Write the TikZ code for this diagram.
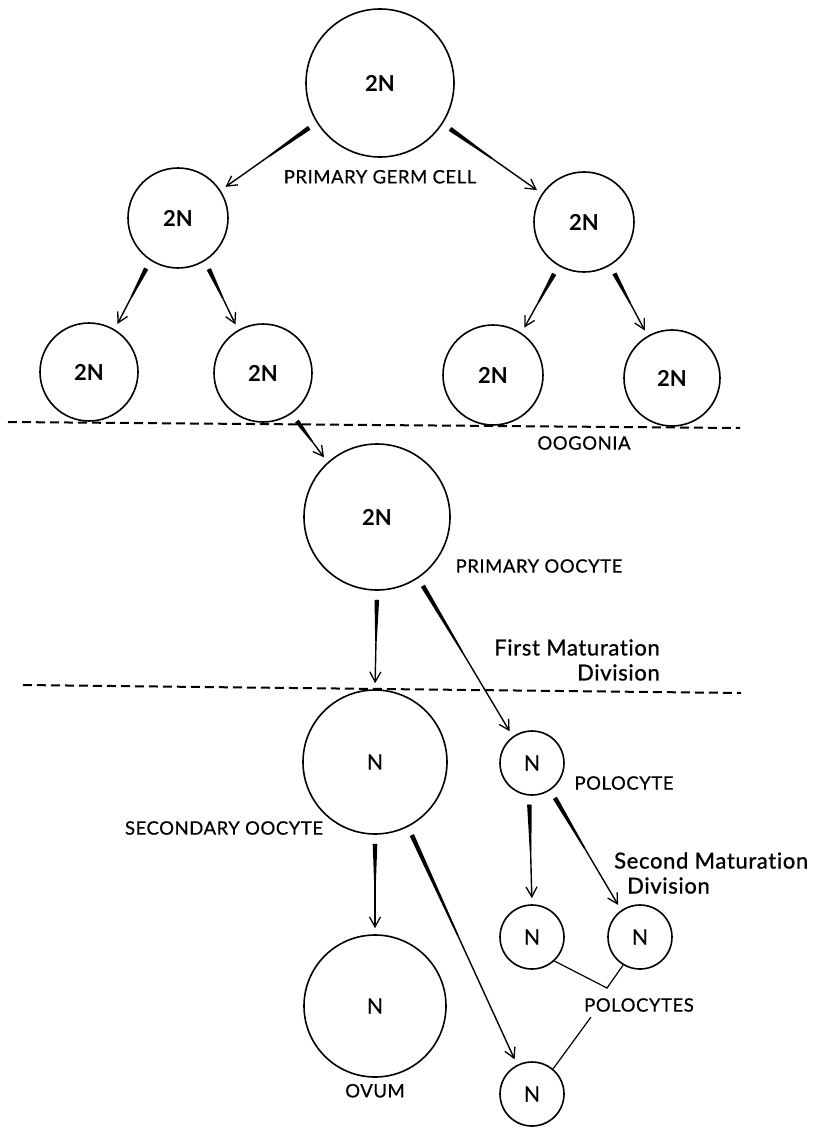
\documentclass[tikz,border=0pt]{standalone}
\usepackage{fontspec}
\setmainfont{Lato}
\usetikzlibrary{positioning, arrows.meta, decorations.markings}

\begin{document}
\begin{tikzpicture}[
  x=1pt, y=-1pt,
  cell/.style={circle, draw, line width=1.6pt, inner sep=0pt, minimum size=#1,
               font=\fontsize{21}{24}\selectfont\addfontfeatures{FakeBold=0.6}},
  dip/.style={font=\fontsize{22}{24}\selectfont\bfseries},
  lbl/.style={font=\fontsize{18.5}{20}\selectfont\addfontfeatures{LetterSpace=3,FakeBold=0.5},
              inner sep=1pt},
  note/.style={font=\fontsize{22}{25}\selectfont
               \addfontfeatures{LetterSpace=3,FakeBold=1,Ligatures=NoCommon},
               inner sep=1pt},
  split/.style={line width=1.4pt,
    -{Straight Barb[length=10pt, width=11pt, line width=1.3pt]},
    shorten <=9pt, shorten >=6pt,
    postaction={decorate, decoration={markings,
      mark=at position 9pt with {
        \pgfmathsetmacro\tl{0.42*\pgfdecoratedpathlength}
        \fill (0pt,2.3pt) -- (\tl pt,0.8pt) -- (\tl pt,-0.8pt) -- (0pt,-2.3pt) -- cycle;}}}},
  border/.style={dash pattern=on 9pt off 5pt, line width=2pt},
  tie/.style={line width=1.2pt}
]
\useasboundingbox (0,0) rectangle (823,1129);

% oogonia
\node[cell=148pt, dip] (pgc) at (380,83) {2N};
\node[cell=100pt, dip] (gl) at (178,218) {2N};
\node[cell=100pt, dip] (gr) at (584,222) {2N};
\node[cell=98pt, dip] (oa) at (89,372) {2N};
\node[cell=98pt, dip] (ob) at (263,373) {2N};
\node[cell=100pt, dip] (oc) at (493,375) {2N};
\node[cell=96pt, dip] (od) at (672,378) {2N};

% oocytes and polocytes
\node[cell=146pt, dip] (poo) at (377,517) {2N};
\node[cell=144pt] (soo) at (375,762) {N};
\node[cell=142pt] (ovum) at (375,1006) {N};
\node[cell=64pt] (pa) at (532,763) {N};
\node[cell=64pt] (pb) at (532,937) {N};
\node[cell=64pt] (pc) at (640,937) {N};
\node[cell=64pt] (pd) at (532,1094) {N};

% labels
\node[lbl, below=11pt of pgc] (pgcl) {PRIMARY GERM CELL};
\node[lbl] (oog) at (584,443) {OOGONIA};
\node[lbl] (pool) at (539,566) {PRIMARY OOCYTE};
\node[note, align=right] (fmd) at (577,660) {First Maturation\\Division};
\node[lbl] (sool) at (224,828) {SECONDARY OOCYTE};
\node[lbl] (pal) at (624,783) {POLOCYTE};
\node[note, align=left, anchor=west] (smd) at (613,873) {Second Maturation\\\hspace*{13pt}Division};
\node[lbl] (pcl) at (639,1005) {POLOCYTES};
\node[lbl, below=5pt of ovum] (ovl) {OVUM};

% divisions
\draw[split] (pgc.212) -- (gl.33);
\draw[split] (pgc.327) -- (gr.146);
\draw[split] (gl.237) -- (oa.59);
\draw[split] (gl.302) -- (ob.120);
\draw[split] (gr.240) -- (oc.56);
\draw[split] (gr.301) -- (od.120);
\draw[split] (ob.305) -- (poo.132);
\draw[split] (poo.270) -- (soo.90);
\draw[split] (poo.304) -- (pa.126);
\draw[split] (soo.270) -- (ovum.90);
\draw[split] (soo.297) -- (pd.117);
\draw[split] (pa.265) -- (pb.90);
\draw[split] (pa.304) -- (pc.125);

% dividing lines
\draw[border] (8,422) -- (740,428);
\draw[border] (23,685) -- (741,693);

% polocytes bracket
\coordinate (jn) at (607,988);
\coordinate (pl) at (591,1017);
\draw[tie] (pb.313) -- (jn) -- (pc.239);
\draw[tie] (pl) -- (pd.50);
\end{tikzpicture}
\end{document}
